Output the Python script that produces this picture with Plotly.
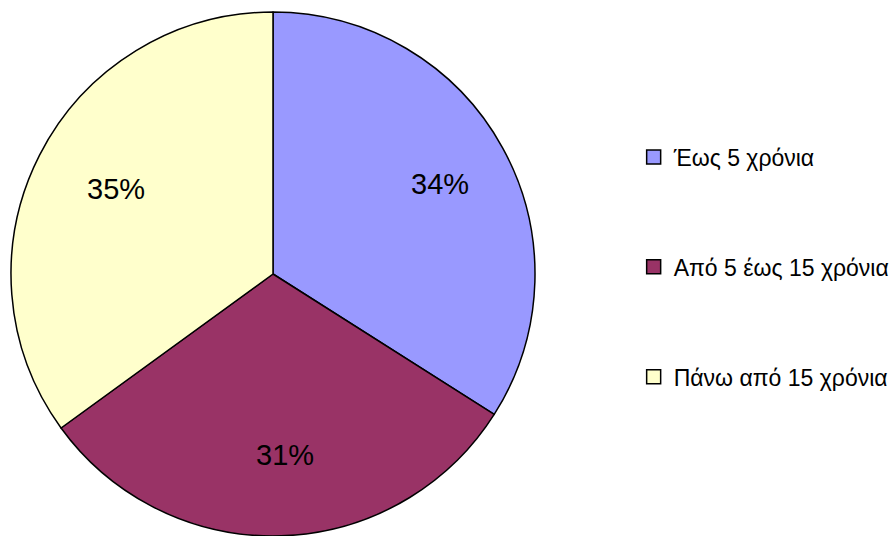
import math
import plotly.graph_objects as go

# categories, shares and slice colours
labels = ["Έως 5 χρόνια", "Από 5 έως 15 χρόνια", "Πάνω από 15 χρόνια"]
values = [34, 31, 35]
colors = ["#9999FF", "#993366", "#FFFFCC"]

FONT = "Liberation Sans, Arial, sans-serif"
W, H = 895, 536
TOP = 12                       # top margin, px
CX = 273                       # pie centre x, px
R = (H - TOP) / 2              # pie radius, px (pie fills the plot height)

fig = go.Figure()

# the pie itself, slices start at 12 o'clock and run clockwise
fig.add_trace(go.Pie(
    labels=labels, values=values, sort=False,
    direction="clockwise", rotation=0,
    marker=dict(colors=colors, line=dict(color="black", width=1.5)),
    textinfo="none",
    domain=dict(x=[(CX - 265) / W, (CX + 265) / W], y=[0, 1]),
    showlegend=False, hoverinfo="label+percent",
))

# percentage labels placed along each slice's mid angle, Excel style
total = sum(values)
start = 0.0
for v in values:
    mid = math.radians((start + v / 2) / total * 360)
    start += v
    fig.add_annotation(
        x=(CX + 0.7 * R * math.sin(mid)) / W,
        y=0.5 + 0.7 * R * math.cos(mid) / (H - TOP),
        xref="paper", yref="paper", xanchor="center", yanchor="middle",
        showarrow=False, text=f"{v / total:.0%}", xshift=6, yshift=2,
        font=dict(family=FONT, size=29, color="black"),
    )

# legend entries: one empty marker trace per category so the boxes and gaps can be sized
for i, (lab, col) in enumerate(zip(labels, colors)):
    fig.add_trace(go.Scatter(
        x=[None], y=[None], mode="markers", name=lab,
        legendgroup=f"g{i}",
        marker=dict(symbol="square", size=14, color=col,
                    line=dict(color="black", width=1.5)),
    ))

fig.update_layout(
    width=W, height=H,
    margin=dict(l=0, r=0, t=TOP, b=0),
    paper_bgcolor="white", plot_bgcolor="white",
    font=dict(family=FONT, color="black"),
    xaxis=dict(visible=False), yaxis=dict(visible=False),
    legend=dict(
        x=0.708, y=1 - (267 - TOP) / (H - TOP), xanchor="left", yanchor="middle",
        font=dict(family=FONT, size=23, color="black"),
        tracegroupgap=77, itemclick=False, itemdoubleclick=False,
    ),
)

# drop the browser's default 8px body margin so the figure sits flush in the window
fig.write_html("out.html", config={"displayModeBar": False},
               post_script="document.body.style.margin = '0';")
